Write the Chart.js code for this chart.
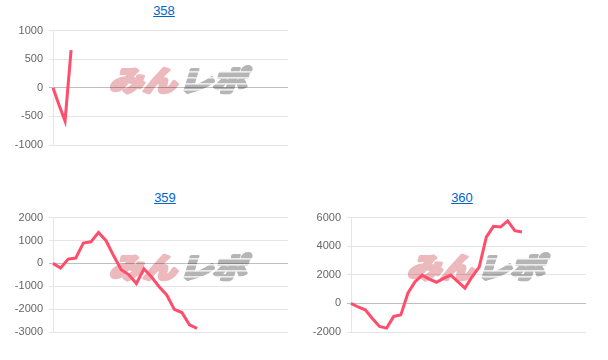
<!DOCTYPE html>
<html>
<head>
<meta charset="utf-8">
<script src="https://cdn.jsdelivr.net/npm/chart.js@4/dist/chart.umd.min.js"></script>
<style>
  body { margin: 0; background: #fff; width: 608px; height: 360px; overflow: hidden; position: relative;
         font-family: "Liberation Sans", Arial, sans-serif; }
  .ttl { position: absolute; width: 80px; text-align: center; font-size: 13px; line-height: 16px;
         color: #0066cc; text-decoration: underline; }
  .box { position: absolute; width: 300px; height: 140px; }
</style>
</head>
<body>
<a class="ttl" href="#" style="left:124px;top:3px">358</a>
<a class="ttl" href="#" style="left:125px;top:190px">359</a>
<a class="ttl" href="#" style="left:422px;top:190px">360</a>
<div class="box" style="left:0;top:18px"><canvas id="c358"></canvas></div>
<div class="box" style="left:0;top:205px"><canvas id="c359"></canvas></div>
<div class="box" style="left:298px;top:205px"><canvas id="c360"></canvas></div>
<script>
// machine balance per data point
const data358 = [0, -300, -580, 660];
const data359 = [0, -200, 185, 230, 890, 940, 1350, 990, 330, -280, -500, -880, -240, -600,
                 -1020, -1380, -2010, -2150, -2690, -2840];
const data360 = [0, -250, -450, -1050, -1610, -1730, -910, -800, 730, 1520, 1980, 1700, 1480,
                 1750, 1980, 1520, 1070, 1860, 2540, 4640, 5390, 5340, 5770, 5090, 5000];

// y tick labels
const ticks358 = [-1000, -500, 0, 500, 1000];
const ticks359 = [-3000, -2000, -1000, 0, 1000, 2000];
const ticks360 = [-2000, 0, 2000, 4000, 6000];

// number of x slots on each chart (no labels shown)
const slots358 = 40;
const slots359 = 32;
const slots360 = 34;

const lineColor = 'rgb(255, 77, 107)';

Chart.defaults.font.family = '"Liberation Sans", Arial, sans-serif';
Chart.defaults.font.size = 11;
Chart.defaults.color = '#666';

// みんレポ watermark behind the grid and line
const watermark = {
    id: 'watermark',
    beforeDraw(chart) {
        const a = chart.chartArea;
        const ctx = chart.ctx;
        const cx = (a.left + a.right) / 2 + 9;
        const cy = (a.top + a.bottom) / 2 - 7.5;
        ctx.save();
        ctx.font = '900 28px "Noto Sans CJK JP"';
        ctx.textBaseline = 'middle';
        ctx.lineJoin = 'round';
        ctx.lineWidth = 3;
        const w1 = ctx.measureText('みん').width;
        const w2 = ctx.measureText('レポ').width;
        ctx.translate(cx, cy);
        ctx.transform(1.2, 0, -0.3, 1, 0, 0);
        const x0 = -(w1 + w2) / 2;
        ctx.fillStyle = ctx.strokeStyle = '#ecb9bd';
        ctx.strokeText('みん', x0, 0);
        ctx.fillText('みん', x0, 0);
        ctx.fillStyle = ctx.strokeStyle = '#b5b5b5';
        ctx.strokeText('レポ', x0 + w1 + 2, 0);
        ctx.fillText('レポ', x0 + w1 + 2, 0);
        // speed stripes through the grey half
        ctx.fillStyle = '#fff';
        for (let i = 0; i < 4; i++) {
            ctx.fillRect(x0 + w1 + 2, -9 + i * 6, w2, 1.2);
        }
        ctx.restore();
    }
};

function makeChart(id, values, ticks, slots) {
    const labels = new Array(slots).fill('');
    new Chart(document.getElementById(id), {
        type: 'line',
        data: {
            labels: labels,
            datasets: [{
                data: values,
                borderColor: lineColor,
                borderWidth: 3,
                pointRadius: 0,
                tension: 0,
                fill: false
            }]
        },
        options: {
            responsive: true,
            maintainAspectRatio: false,
            animation: false,
            layout: { padding: { left: 0, right: 12, top: 9, bottom: 13 } },
            plugins: { legend: { display: false }, tooltip: { enabled: false } },
            scales: {
                x: { display: false },
                y: {
                    min: ticks[0],
                    max: ticks[ticks.length - 1],
                    afterBuildTicks: s => { s.ticks = ticks.map(v => ({ value: v })); },
                    afterFit: s => { s.width = 53; },
                    border: { display: true, color: 'rgba(0,0,0,0.1)' },
                    grid: {
                        tickLength: 4,
                        color: c => c.tick && c.tick.value === 0 ? 'rgba(0,0,0,0.25)' : 'rgba(0,0,0,0.1)'
                    },
                    ticks: { padding: 6, color: '#666', callback: v => String(v) }
                }
            }
        },
        plugins: [watermark]
    });
}

makeChart('c358', data358, ticks358, slots358);
makeChart('c359', data359, ticks359, slots359);
makeChart('c360', data360, ticks360, slots360);
</script>
</body>
</html>
